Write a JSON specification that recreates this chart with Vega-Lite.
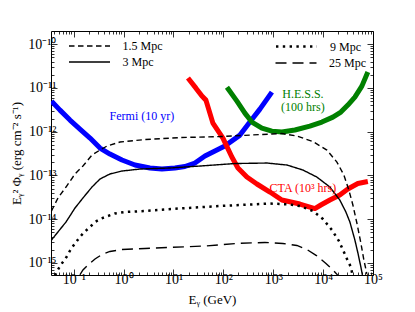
{
  "$schema": "https://vega.github.io/schema/vega-lite/v6.json",
  "width": 322,
  "height": 244,
  "autosize": {"type": "none"},
  "padding": {"left": 51, "top": 31, "right": 42, "bottom": 37},
  "background": "white",
  "config": {
    "view": {"stroke": "black", "strokeWidth": 1},
    "font": "Liberation Serif",
    "axis": {
      "domain": false,
      "grid": false,
      "labelFont": "Liberation Serif",
      "labelFontSize": 14,
      "labelColor": "black",
      "labelOverlap": false,
      "labelFlush": false,
      "labelBound": false,
      "tickColor": "black",
      "tickWidth": 0.8,
      "titleFont": "Liberation Serif",
      "titleFontSize": 13,
      "titleFontWeight": "normal",
      "titleColor": "black"
    },
    "legend": {
      "title": null,
      "orient": "none",
      "padding": 0,
      "rowPadding": 4,
      "symbolType": "M-4.1,0H4.1",
      "symbolSize": 100,
      "symbolStrokeColor": "black",
      "symbolFillColor": "transparent",
      "symbolStrokeWidth": 1.4,
      "labelFont": "Liberation Serif",
      "labelFontSize": 12,
      "labelColor": "black",
      "labelOffset": 27
    }
  },
  "datasets": {
    "curves": [
      {"d": "1.5 Mpc", "E": 0.0358, "F": 1.54e-14},
      {"d": "1.5 Mpc", "E": 0.0483, "F": 3.05e-14},
      {"d": "1.5 Mpc", "E": 0.07, "F": 5.43e-14},
      {"d": "1.5 Mpc", "E": 0.106, "F": 1.08e-13},
      {"d": "1.5 Mpc", "E": 0.153, "F": 1.64e-13},
      {"d": "1.5 Mpc", "E": 0.232, "F": 2.92e-13},
      {"d": "1.5 Mpc", "E": 0.336, "F": 3.8e-13},
      {"d": "1.5 Mpc", "E": 0.464, "F": 4.69e-13},
      {"d": "1.5 Mpc", "E": 0.845, "F": 5.79e-13},
      {"d": "1.5 Mpc", "E": 2.68, "F": 6.61e-13},
      {"d": "1.5 Mpc", "E": 13.5, "F": 7.33e-13},
      {"d": "1.5 Mpc", "E": 85.3, "F": 7.73e-13},
      {"d": "1.5 Mpc", "E": 857, "F": 8.81e-13},
      {"d": "1.5 Mpc", "E": 1490, "F": 9.05e-13},
      {"d": "1.5 Mpc", "E": 2980, "F": 7.94e-13},
      {"d": "1.5 Mpc", "E": 6240, "F": 5.94e-13},
      {"d": "1.5 Mpc", "E": 11900, "F": 3.8e-13},
      {"d": "1.5 Mpc", "E": 18900, "F": 2.02e-13},
      {"d": "1.5 Mpc", "E": 26100, "F": 1.02e-13},
      {"d": "1.5 Mpc", "E": 32800, "F": 4.64e-14},
      {"d": "1.5 Mpc", "E": 39500, "F": 2.11e-14},
      {"d": "1.5 Mpc", "E": 47500, "F": 8.18e-15},
      {"d": "1.5 Mpc", "E": 57100, "F": 2.86e-15},
      {"d": "1.5 Mpc", "E": 65600, "F": 1.17e-15},
      {"d": "1.5 Mpc", "E": 75400, "F": 5.61e-16},
      {"d": "3 Mpc", "E": 0.0358, "F": 3.35e-15},
      {"d": "3 Mpc", "E": 0.0483, "F": 5.11e-15},
      {"d": "3 Mpc", "E": 0.07, "F": 8.63e-15},
      {"d": "3 Mpc", "E": 0.106, "F": 1.8e-14},
      {"d": "3 Mpc", "E": 0.153, "F": 3.05e-14},
      {"d": "3 Mpc", "E": 0.232, "F": 5.43e-14},
      {"d": "3 Mpc", "E": 0.336, "F": 8.28e-14},
      {"d": "3 Mpc", "E": 0.532, "F": 1.08e-13},
      {"d": "3 Mpc", "E": 0.927, "F": 1.26e-13},
      {"d": "3 Mpc", "E": 2.13, "F": 1.4e-13},
      {"d": "3 Mpc", "E": 8.49, "F": 1.48e-13},
      {"d": "3 Mpc", "E": 33.9, "F": 1.64e-13},
      {"d": "3 Mpc", "E": 170, "F": 1.87e-13},
      {"d": "3 Mpc", "E": 746, "F": 1.92e-13},
      {"d": "3 Mpc", "E": 1880, "F": 1.73e-13},
      {"d": "3 Mpc", "E": 3930, "F": 1.33e-13},
      {"d": "3 Mpc", "E": 7490, "F": 9.18e-14},
      {"d": "3 Mpc", "E": 13650, "F": 5.43e-14},
      {"d": "3 Mpc", "E": 21600, "F": 2.74e-14},
      {"d": "3 Mpc", "E": 28600, "F": 1.46e-14},
      {"d": "3 Mpc", "E": 34400, "F": 8.63e-15},
      {"d": "3 Mpc", "E": 43300, "F": 3.35e-15},
      {"d": "3 Mpc", "E": 49800, "F": 1.69e-15},
      {"d": "3 Mpc", "E": 57100, "F": 8.11e-16},
      {"d": "3 Mpc", "E": 61200, "F": 5.37e-16},
      {"d": "9 Mpc", "E": 0.0384, "F": 3.68e-16},
      {"d": "9 Mpc", "E": 0.0451, "F": 6.24e-16},
      {"d": "9 Mpc", "E": 0.0568, "F": 9.49e-16},
      {"d": "9 Mpc", "E": 0.0716, "F": 1.37e-15},
      {"d": "9 Mpc", "E": 0.0881, "F": 2.09e-15},
      {"d": "9 Mpc", "E": 0.108, "F": 2.86e-15},
      {"d": "9 Mpc", "E": 0.133, "F": 3.93e-15},
      {"d": "9 Mpc", "E": 0.164, "F": 5.11e-15},
      {"d": "9 Mpc", "E": 0.212, "F": 6.64e-15},
      {"d": "9 Mpc", "E": 0.267, "F": 8.63e-15},
      {"d": "9 Mpc", "E": 0.36, "F": 1.04e-14},
      {"d": "9 Mpc", "E": 0.486, "F": 1.18e-14},
      {"d": "9 Mpc", "E": 0.671, "F": 1.35e-14},
      {"d": "9 Mpc", "E": 1.06, "F": 1.46e-14},
      {"d": "9 Mpc", "E": 2.68, "F": 1.54e-14},
      {"d": "9 Mpc", "E": 12.3, "F": 1.75e-14},
      {"d": "9 Mpc", "E": 85.3, "F": 2.0e-14},
      {"d": "9 Mpc", "E": 857, "F": 2.28e-14},
      {"d": "9 Mpc", "E": 2150, "F": 2.17e-14},
      {"d": "9 Mpc", "E": 3420, "F": 2.0e-14},
      {"d": "9 Mpc", "E": 6230, "F": 1.54e-14},
      {"d": "9 Mpc", "E": 9890, "F": 1.01e-14},
      {"d": "9 Mpc", "E": 15000, "F": 5.67e-15},
      {"d": "9 Mpc", "E": 20700, "F": 3.18e-15},
      {"d": "9 Mpc", "E": 26100, "F": 1.78e-15},
      {"d": "9 Mpc", "E": 31300, "F": 1.11e-15},
      {"d": "9 Mpc", "E": 36000, "F": 8.11e-16},
      {"d": "9 Mpc", "E": 40000, "F": 4.5e-16},
      {"d": "25 Mpc", "E": 0.133, "F": 5.37e-16},
      {"d": "25 Mpc", "E": 0.153, "F": 6.92e-16},
      {"d": "25 Mpc", "E": 0.193, "F": 8.99e-16},
      {"d": "25 Mpc", "E": 0.267, "F": 1.23e-15},
      {"d": "25 Mpc", "E": 0.368, "F": 1.56e-15},
      {"d": "25 Mpc", "E": 0.532, "F": 1.83e-15},
      {"d": "25 Mpc", "E": 0.927, "F": 2.03e-15},
      {"d": "25 Mpc", "E": 2.68, "F": 2.14e-15},
      {"d": "25 Mpc", "E": 8.49, "F": 2.26e-15},
      {"d": "25 Mpc", "E": 42.7, "F": 2.44e-15},
      {"d": "25 Mpc", "E": 187, "F": 2.79e-15},
      {"d": "25 Mpc", "E": 680, "F": 2.94e-15},
      {"d": "25 Mpc", "E": 1560, "F": 2.79e-15},
      {"d": "25 Mpc", "E": 2980, "F": 2.51e-15},
      {"d": "25 Mpc", "E": 4720, "F": 2.03e-15},
      {"d": "25 Mpc", "E": 7490, "F": 1.45e-15},
      {"d": "25 Mpc", "E": 11400, "F": 9.75e-16},
      {"d": "25 Mpc", "E": 16400, "F": 6.56e-16},
      {"d": "25 Mpc", "E": 19800, "F": 5.2e-16}
    ],
    "sens": [
      {"inst": "Fermi", "E": 0.0358, "F": 5.0e-12},
      {"inst": "Fermi", "E": 0.053, "F": 3.11e-12},
      {"inst": "Fermi", "E": 0.084, "F": 1.84e-12},
      {"inst": "Fermi", "E": 0.133, "F": 1.15e-12},
      {"inst": "Fermi", "E": 0.212, "F": 7.14e-13},
      {"inst": "Fermi", "E": 0.336, "F": 4.23e-13},
      {"inst": "Fermi", "E": 0.532, "F": 3.08e-13},
      {"inst": "Fermi", "E": 0.927, "F": 2.25e-13},
      {"inst": "Fermi", "E": 1.69, "F": 1.73e-13},
      {"inst": "Fermi", "E": 3.37, "F": 1.48e-13},
      {"inst": "Fermi", "E": 5.86, "F": 1.4e-13},
      {"inst": "Fermi", "E": 10.7, "F": 1.48e-13},
      {"inst": "Fermi", "E": 16.9, "F": 1.6e-13},
      {"inst": "Fermi", "E": 26.9, "F": 1.92e-13},
      {"inst": "Fermi", "E": 42.7, "F": 2.77e-13},
      {"inst": "Fermi", "E": 67.7, "F": 3.61e-13},
      {"inst": "Fermi", "E": 107, "F": 4.69e-13},
      {"inst": "Fermi", "E": 215, "F": 8.35e-13},
      {"inst": "Fermi", "E": 340, "F": 1.66e-12},
      {"inst": "Fermi", "E": 540, "F": 3.28e-12},
      {"inst": "Fermi", "E": 940, "F": 8.01e-12},
      {"inst": "CTA", "E": 19.5, "F": 1.68e-11},
      {"inst": "CTA", "E": 28.2, "F": 9.89e-12},
      {"inst": "CTA", "E": 37.2, "F": 6.5e-12},
      {"inst": "CTA", "E": 44.7, "F": 5.26e-12},
      {"inst": "CTA", "E": 61.7, "F": 1.57e-12},
      {"inst": "CTA", "E": 97.9, "F": 7.14e-13},
      {"inst": "CTA", "E": 148, "F": 2.63e-13},
      {"inst": "CTA", "E": 196, "F": 1.48e-13},
      {"inst": "CTA", "E": 296, "F": 9.18e-14},
      {"inst": "CTA", "E": 470, "F": 6.37e-14},
      {"inst": "CTA", "E": 857, "F": 4.18e-14},
      {"inst": "CTA", "E": 1490, "F": 2.74e-14},
      {"inst": "CTA", "E": 3420, "F": 2.22e-14},
      {"inst": "CTA", "E": 6830, "F": 1.75e-14},
      {"inst": "CTA", "E": 9000, "F": 2.11e-14},
      {"inst": "CTA", "E": 13650, "F": 2.74e-14},
      {"inst": "CTA", "E": 21600, "F": 3.57e-14},
      {"inst": "CTA", "E": 31300, "F": 4.89e-14},
      {"inst": "CTA", "E": 49700, "F": 6.53e-14},
      {"inst": "CTA", "E": 78800, "F": 7.26e-14},
      {"inst": "HESS", "E": 118, "F": 1.04e-11},
      {"inst": "HESS", "E": 187, "F": 5.0e-12},
      {"inst": "HESS", "E": 270, "F": 2.66e-12},
      {"inst": "HESS", "E": 373, "F": 1.66e-12},
      {"inst": "HESS", "E": 592, "F": 1.21e-12},
      {"inst": "HESS", "E": 940, "F": 1.03e-12},
      {"inst": "HESS", "E": 1490, "F": 9.8e-13},
      {"inst": "HESS", "E": 2720, "F": 1.09e-12},
      {"inst": "HESS", "E": 5420, "F": 1.34e-12},
      {"inst": "HESS", "E": 9440, "F": 1.66e-12},
      {"inst": "HESS", "E": 15700, "F": 2.15e-12},
      {"inst": "HESS", "E": 22700, "F": 2.8e-12},
      {"inst": "HESS", "E": 31300, "F": 4.05e-12},
      {"inst": "HESS", "E": 43300, "F": 6.17e-12},
      {"inst": "HESS", "E": 59800, "F": 1.1e-11},
      {"inst": "HESS", "E": 78800, "F": 2.3e-11}
    ],
    "labels": [
      {"inst": "Fermi", "text": "Fermi (10 yr)", "E": 2.33, "F": 2.27e-12},
      {"inst": "HESS", "text": "H.E.S.S.", "E": 3930, "F": 7.21e-12},
      {"inst": "HESS", "text": "(100 hrs)", "E": 3930, "F": 3.65e-12},
      {"inst": "CTA", "text": "CTA (10³ hrs)", "E": 3930, "F": 5.15e-14}
    ]
  },
  "layer": [
    {
      "data": {"name": "sens"},
      "mark": {"type": "line", "strokeWidth": 5, "clip": true, "strokeJoin": "round"},
      "encoding": {
        "x": {
          "field": "E", "type": "quantitative",
          "scale": {"type": "log", "domain": [0.035, 100000], "nice": false},
          "axis": {
            "orient": "bottom",
            "title": "Eᵧ (GeV)",
            "values": [0.04,0.05,0.06,0.07,0.08,0.09,0.1,0.2,0.3,0.4,0.5,0.6,0.7,0.8,0.9,1,2,3,4,5,6,7,8,9,10,20,30,40,50,60,70,80,90,100,200,300,400,500,600,700,800,900,1000,2000,3000,4000,5000,6000,7000,8000,9000,10000,20000,30000,40000,50000,60000,70000,80000,90000,100000],
            "tickSize": {"condition": {"test": "abs(log(datum.value)/LN10 - round(log(datum.value)/LN10)) < 0.001", "value": -6}, "value": -3},
            "labelPadding": 3,
            "labelExpr": "abs(log(datum.value)/LN10 - round(log(datum.value)/LN10)) < 0.001 ? ['10⁻¹','10⁰','10¹','10²','10³','10⁴','10⁵'][round(log(datum.value)/LN10)+1] : ''"
          }
        },
        "y": {
          "field": "F", "type": "quantitative",
          "scale": {"type": "log", "domain": [5.3e-16, 2e-10], "nice": false},
          "axis": {
            "orient": "left",
            "title": "Eᵧ² Φᵧ (erg cm⁻² s⁻¹)",
            "values": [6e-16,7e-16,8e-16,9e-16,1e-15,2e-15,3e-15,4e-15,5e-15,6e-15,7e-15,8e-15,9e-15,1e-14,2e-14,3e-14,4e-14,5e-14,6e-14,7e-14,8e-14,9e-14,1e-13,2e-13,3e-13,4e-13,5e-13,6e-13,7e-13,8e-13,9e-13,1e-12,2e-12,3e-12,4e-12,5e-12,6e-12,7e-12,8e-12,9e-12,1e-11,2e-11,3e-11,4e-11,5e-11,6e-11,7e-11,8e-11,9e-11,1e-10],
            "tickSize": {"condition": {"test": "abs(log(datum.value)/LN10 - round(log(datum.value)/LN10)) < 0.001", "value": -6}, "value": -3},
            "labelPadding": 1,
            "labelExpr": "abs(log(datum.value)/LN10 - round(log(datum.value)/LN10)) < 0.001 ? ['10⁻¹⁰','10⁻¹¹','10⁻¹²','10⁻¹³','10⁻¹⁴','10⁻¹⁵'][-round(log(datum.value)/LN10)-10] : ''"
          }
        },
        "color": {
          "field": "inst", "type": "nominal",
          "scale": {"domain": ["Fermi", "CTA", "HESS"], "range": ["#0000ff", "#ff0000", "#008000"]},
          "legend": null
        },
        "detail": {"field": "inst"}
      }
    },
    {
      "data": {"name": "curves"},
      "transform": [{"filter": {"field": "d", "oneOf": ["1.5 Mpc", "3 Mpc"]}}],
      "mark": {"type": "line", "color": "black", "strokeWidth": 1.4, "clip": true},
      "encoding": {
        "x": {
          "field": "E", "type": "quantitative",
          "axis": {
            "orient": "top", "labels": false, "title": null,
            "values": [0.04,0.05,0.06,0.07,0.08,0.09,0.1,0.2,0.3,0.4,0.5,0.6,0.7,0.8,0.9,1,2,3,4,5,6,7,8,9,10,20,30,40,50,60,70,80,90,100,200,300,400,500,600,700,800,900,1000,2000,3000,4000,5000,6000,7000,8000,9000,10000,20000,30000,40000,50000,60000,70000,80000,90000,100000],
            "tickSize": {"condition": {"test": "abs(log(datum.value)/LN10 - round(log(datum.value)/LN10)) < 0.001", "value": -6}, "value": -3}
          }
        },
        "y": {
          "field": "F", "type": "quantitative",
          "axis": {
            "orient": "right", "labels": false, "title": null,
            "values": [6e-16,7e-16,8e-16,9e-16,1e-15,2e-15,3e-15,4e-15,5e-15,6e-15,7e-15,8e-15,9e-15,1e-14,2e-14,3e-14,4e-14,5e-14,6e-14,7e-14,8e-14,9e-14,1e-13,2e-13,3e-13,4e-13,5e-13,6e-13,7e-13,8e-13,9e-13,1e-12,2e-12,3e-12,4e-12,5e-12,6e-12,7e-12,8e-12,9e-12,1e-11,2e-11,3e-11,4e-11,5e-11,6e-11,7e-11,8e-11,9e-11,1e-10],
            "tickSize": {"condition": {"test": "abs(log(datum.value)/LN10 - round(log(datum.value)/LN10)) < 0.001", "value": -6}, "value": -3}
          }
        },
        "strokeDash": {
          "field": "d", "type": "nominal",
          "scale": {"domain": ["1.5 Mpc", "3 Mpc"], "range": [[5.5, 3.5], [1, 0]]},
          "legend": {"legendX": 32.5, "legendY": 9}
        }
      }
    },
    {
      "data": {"name": "curves"},
      "transform": [{"filter": {"field": "d", "equal": "9 Mpc"}}],
      "mark": {"type": "line", "color": "black", "strokeWidth": 2.5, "clip": true},
      "encoding": {
        "x": {"field": "E", "type": "quantitative", "axis": null},
        "y": {"field": "F", "type": "quantitative", "axis": null},
        "strokeDash": {
          "field": "d", "type": "nominal",
          "scale": {"domain": ["9 Mpc"], "range": [[2.4, 4.4]]},
          "legend": {"legendX": 239, "legendY": 9, "symbolStrokeWidth": 2.5}
        }
      }
    },
    {
      "data": {"name": "curves"},
      "transform": [{"filter": {"field": "d", "equal": "25 Mpc"}}],
      "mark": {"type": "line", "color": "black", "strokeWidth": 1.4, "clip": true},
      "encoding": {
        "x": {"field": "E", "type": "quantitative", "axis": null},
        "y": {"field": "F", "type": "quantitative", "axis": null},
        "strokeDash": {
          "field": "d", "type": "nominal",
          "scale": {"domain": ["25 Mpc"], "range": [[11, 6]]},
          "legend": {"legendX": 239, "legendY": 26}
        }
      }
    },
    {
      "data": {"name": "labels"},
      "mark": {"type": "text", "font": "Liberation Serif", "fontSize": 12, "align": "center", "baseline": "middle"},
      "encoding": {
        "x": {"field": "E", "type": "quantitative", "axis": null},
        "y": {"field": "F", "type": "quantitative", "axis": null},
        "text": {"field": "text"},
        "color": {"field": "inst", "type": "nominal", "legend": null}
      }
    }
  ],
  "resolve": {
    "scale": {"strokeDash": "independent"},
    "axis": {"x": "independent", "y": "independent"}
  }
}
